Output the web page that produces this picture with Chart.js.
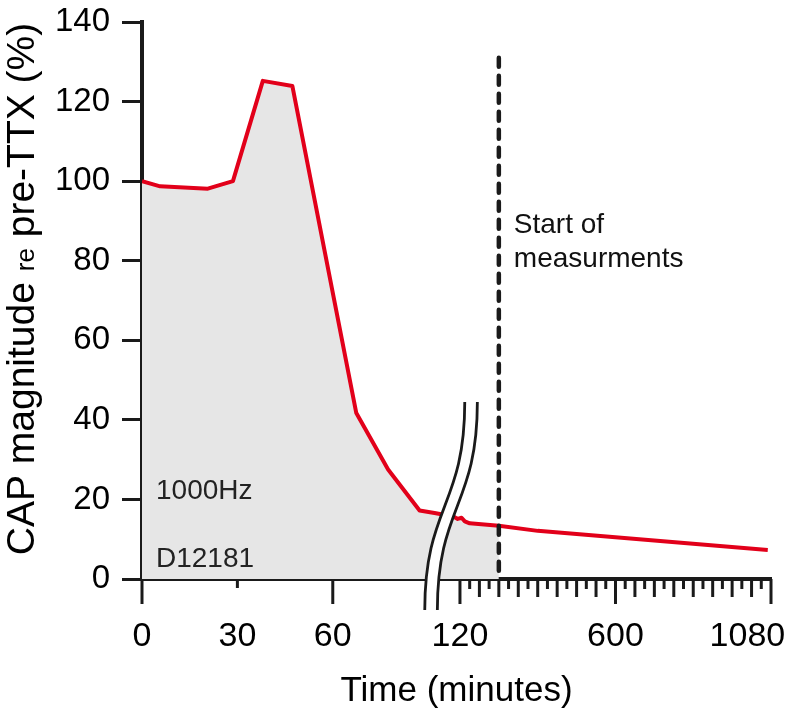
<!DOCTYPE html>
<html>
<head>
<meta charset="utf-8">
<script src="https://cdn.jsdelivr.net/npm/chart.js@4.4.0/dist/chart.umd.min.js"></script>
<style>
    html, body { margin: 0; padding: 0; background: #fff; }
    #wrap { width: 786px; height: 712px; }
</style>
</head>
<body>
<div id="wrap"><canvas id="capChart" width="786" height="712"></canvas></div>
<script>
// time after TTX (minutes) and CAP magnitude (% of pre-TTX)
const timeMinutes = [0, 5.7, 20.7, 28.6, 38, 47.3, 67.4, 77.4, 87.3, 92, 100, 113, 125, 135, 150, 240, 360, 1070];
const capPercent  = [100, 98.7, 98.1, 100, 125.2, 123.9, 41.7, 27.5, 17.2, 16.6, 15.7, 15.1, 15.4, 14.5, 14.0, 13.4, 12.1, 7.3];

const yTickValues = [0, 20, 40, 60, 80, 100, 120, 140];
const xLabelTicks = [0, 30, 60, 120, 600, 1080];
const xLongTicks = [0, 60, 120, 600, 1080];
const measureStart = 240;

// broken axis: linear up to LEFT_END, then compressed from 120 on
const LEFT_END = 96;
const RIGHT_SCALE = 0.1019;
const BREAK_POS = 97.2;

function toAxis(t) {
    return t <= LEFT_END ? t : 100 + (t - 120) * RIGHT_SCALE;
}

const FONT = "'Liberation Sans', Arial, Helvetica, sans-serif";
const INK = '#1a1a1a';

const lineData = timeMinutes.map((t, i) => ({ x: toAxis(t), y: capPercent[i] }));
const shadeData = lineData.filter((p, i) => timeMinutes[i] <= measureStart);

const decorPlugin = {
    id: 'decor',
    afterDatasetsDraw(chart) {
        const { ctx, chartArea, scales: { x, y } } = chart;
        const xm = x.getPixelForValue(toAxis(measureStart));

        // start of measurements
        ctx.save();
        ctx.strokeStyle = INK;
        ctx.lineWidth = 4.5;
        ctx.lineCap = 'round';
        ctx.setLineDash([9, 9]);
        ctx.beginPath();
        ctx.moveTo(xm, y.getPixelForValue(131));
        ctx.lineTo(xm, chartArea.bottom - 2);
        ctx.stroke();
        ctx.restore();

        ctx.save();
        ctx.fillStyle = '#111';
        ctx.font = '28px ' + FONT;
        ctx.textBaseline = 'alphabetic';
        ctx.fillText('Start of', xm + 15, y.getPixelForValue(87));
        ctx.fillText('measurments', xm + 15, y.getPixelForValue(78.4));
        ctx.fillStyle = '#222';
        ctx.fillText('1000Hz', chartArea.left + 14, y.getPixelForValue(20.1));
        ctx.fillText('D12181', chartArea.left + 14, y.getPixelForValue(3));
        ctx.restore();
    },
    afterDraw(chart) {
        const { ctx, chartArea, scales: { x } } = chart;
        const base = chartArea.bottom;

        // x tick marks
        ctx.save();
        ctx.strokeStyle = INK;
        ctx.lineWidth = 3;
        const tick = (t, len) => {
            const px = x.getPixelForValue(toAxis(t));
            ctx.beginPath();
            ctx.moveTo(px, base);
            ctx.lineTo(px, base + len);
            ctx.stroke();
        };
        xLongTicks.forEach(t => tick(t, 25));
        tick(30, 9);
        for (let t = 150; t < 1080; t += 30) {
            if (xLongTicks.includes(t)) continue;
            tick(t, t % 60 === 0 ? 18 : 10);
        }
        ctx.restore();

        // axis break
        const cx = x.getPixelForValue(BREAK_POS);
        const top = base - 177, bottom = base + 31, cy = (top + bottom) / 2;
        const swing = 20, off = 6.3;
        ctx.save();
        ctx.fillStyle = '#fff';
        ctx.beginPath();
        ctx.moveTo(cx + swing - off, top);
        ctx.bezierCurveTo(cx + swing - off, cy, cx - swing - off, cy, cx - swing - off, bottom);
        ctx.lineTo(cx - swing + off, bottom);
        ctx.bezierCurveTo(cx - swing + off, cy, cx + swing + off, cy, cx + swing + off, top);
        ctx.closePath();
        ctx.fill();
        ctx.strokeStyle = INK;
        ctx.lineWidth = 2.8;
        [-off, off].forEach(o => {
            ctx.beginPath();
            ctx.moveTo(cx + swing + o, top);
            ctx.bezierCurveTo(cx + swing + o, cy, cx - swing + o, cy, cx - swing + o, bottom);
            ctx.stroke();
        });
        ctx.restore();

        // y title with small "re"
        const parts = [['CAP magnitude ', 39], ['re', 26], [' pre-TTX (%)', 39]];
        ctx.save();
        ctx.fillStyle = '#000';
        ctx.textBaseline = 'alphabetic';
        let total = 0;
        parts.forEach(([s, size]) => { ctx.font = size + 'px ' + FONT; total += ctx.measureText(s).width; });
        ctx.translate(34, 289);
        ctx.rotate(-Math.PI / 2);
        let pos = -total / 2;
        parts.forEach(([s, size]) => {
            ctx.font = size + 'px ' + FONT;
            ctx.fillText(s, pos, 0);
            pos += ctx.measureText(s).width;
        });
        ctx.restore();
    }
};

new Chart(document.getElementById('capChart'), {
    type: 'line',
    data: {
        datasets: [{
            label: 'CAP',
            data: lineData,
            borderColor: '#e2001a',
            borderWidth: 4,
            borderJoinStyle: 'round',
            pointRadius: 0,
            tension: 0,
            fill: false,
            order: 0
        }, {
            label: 'shade',
            data: shadeData,
            borderWidth: 0,
            borderColor: 'rgba(0,0,0,0)',
            backgroundColor: '#e6e6e6',
            pointRadius: 0,
            tension: 0,
            fill: 'origin',
            order: 1
        }]
    },
    options: {
        responsive: false,
        animation: false,
        devicePixelRatio: 1,
        layout: { padding: { left: 0, top: 22, right: 15, bottom: 0 } },
        plugins: {
            legend: { display: false },
            tooltip: { enabled: false }
        },
        scales: {
            x: {
                type: 'linear',
                min: 0,
                max: toAxis(1080),
                grid: { display: false },
                border: { display: true, color: INK, width: 4 },
                afterBuildTicks: s => { s.ticks = xLabelTicks.map(t => ({ value: toAxis(t) })); },
                afterFit: s => { s.height = 133; s.paddingLeft = 0; s.paddingRight = 0; },
                ticks: {
                    autoSkip: false,
                    maxRotation: 0,
                    padding: 29,
                    color: '#000',
                    font: { family: FONT, size: 34 },
                    // last label sits left of its tick, as in the figure
                    callback: (v, i) => i === xLabelTicks.length - 1 ? xLabelTicks[i] + '     ' : String(xLabelTicks[i])
                },
                title: {
                    display: true,
                    text: 'Time (minutes)',
                    color: '#000',
                    font: { family: FONT, size: 35 },
                    padding: { top: 0, bottom: 0 }
                }
            },
            y: {
                min: 0,
                max: 140,
                afterBuildTicks: s => { s.ticks = yTickValues.map(v => ({ value: v })); },
                afterFit: s => { s.width = 142; s.paddingTop = 0; s.paddingBottom = 0; },
                grid: { display: true, drawOnChartArea: false, drawTicks: true, tickLength: 20, tickWidth: 3, tickColor: INK },
                border: { display: true, color: INK, width: 4 },
                ticks: { padding: 12, color: '#000', font: { family: FONT, size: 33 } }
            }
        }
    },
    plugins: [decorPlugin]
});
</script>
</body>
</html>
